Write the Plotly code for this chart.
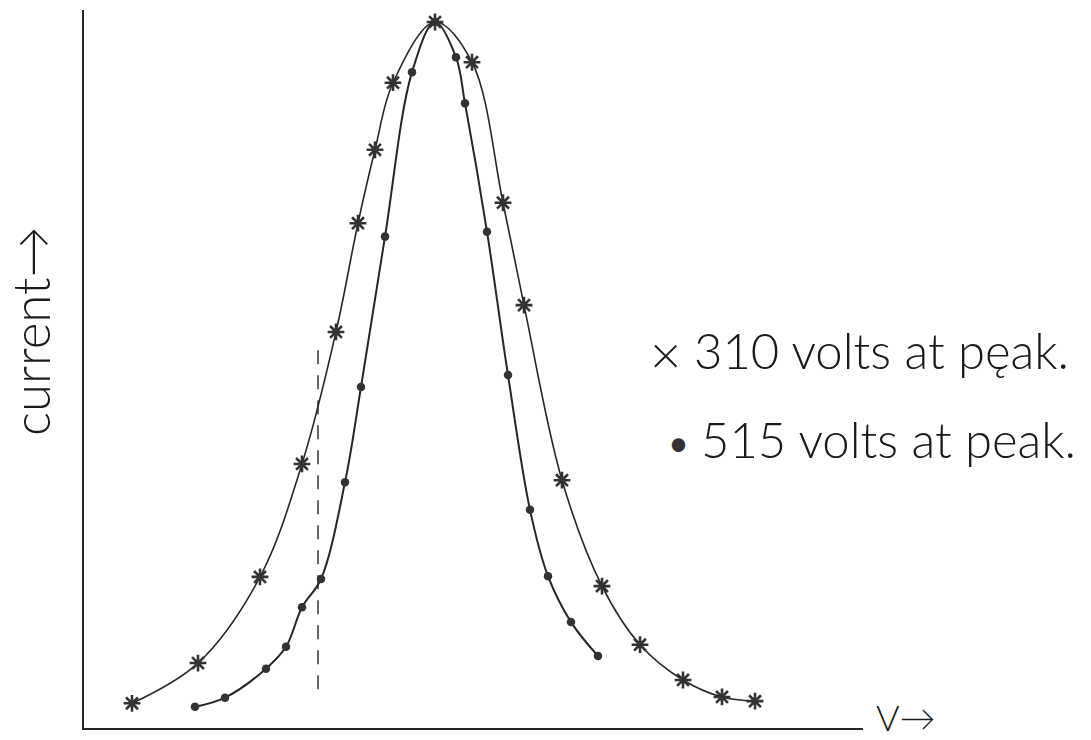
import plotly.graph_objects as go

# Data (arbitrary units: V along x, current along y, peak = 100)
v_310 = [4.8, 11.4, 17.6, 21.8, 25.2, 27.4, 29.1, 30.9, 35.1, 38.8, 41.9, 44.0, 47.8, 51.8, 55.6, 59.9, 63.8, 67.1]
i_310 = [3.5, 9.2, 21.4, 37.4, 56.1, 71.5, 81.9, 91.4, 100.0, 94.3, 74.4, 59.9, 35.1, 20.1, 11.8, 6.8, 4.4, 3.8]

v_515 = [11.1, 14.1, 18.2, 20.2, 21.8, 23.7, 26.1, 27.7, 30.1, 32.8, 35.1, 37.2, 38.1, 40.3, 42.4, 44.6, 46.4, 48.7, 51.4]
i_515 = [3.0, 4.3, 8.4, 11.5, 17.1, 21.1, 34.8, 48.3, 69.6, 92.9, 100.0, 95.0, 88.5, 70.3, 50.0, 30.9, 21.5, 15.0, 10.2]

dash_v = [23.4, 23.4]
dash_i = [53.5, 4.3]

legend_labels = ["310 volts at pęak.", "515 volts at peak."]
x_label = "V→"
y_label = "current→"

ink = "#262626"
FONT = "Lato"

fig = go.Figure()

fig.add_trace(go.Scatter(x=dash_v, y=dash_i, mode="lines",
                         line=dict(color=ink, width=1.4, dash="14px,11px"),
                         hoverinfo="skip"))

fig.add_trace(go.Scatter(x=v_310, y=i_310, mode="lines",
                         line=dict(color=ink, width=1.6, shape="spline", smoothing=1.0)))
fig.add_trace(go.Scatter(x=v_515, y=i_515, mode="lines",
                         line=dict(color=ink, width=2.0, shape="spline", smoothing=1.0)))

fig.add_trace(go.Scatter(x=v_515, y=i_515, mode="markers",
                         marker=dict(symbol="circle", size=8.5, color="#333333")))
fig.add_trace(go.Scatter(x=v_310, y=i_310, mode="markers",
                         marker=dict(symbol="asterisk-open", size=14, color="#333333",
                                     line=dict(color="#333333", width=2.6))))

L, R, T, B = 84, 228, 10, 12
W, H = 1091, 740
pw, ph = W - L - R, H - T - B


def px(x):
    return (x - L) / pw


def py(y):
    return (H - B - y) / ph


ann_font = dict(family=FONT, size=49, color="#1a1a1a", weight=300)
annotations = [
    dict(text="×", x=px(665), y=py(353), xref="paper", yref="paper",
         xanchor="center", yanchor="middle", showarrow=False,
         font=dict(family=FONT, size=54, color="#1a1a1a", weight=300)),
    dict(text=legend_labels[0], x=px(692), y=py(350), xref="paper", yref="paper",
         xanchor="left", yanchor="middle", showarrow=False, font=ann_font),
    dict(text="•", x=px(678), y=py(442), xref="paper", yref="paper",
         xanchor="center", yanchor="middle", showarrow=False,
         font=dict(family=FONT, size=36, color="#333333")),
    dict(text=legend_labels[1], x=px(699), y=py(439), xref="paper", yref="paper",
         xanchor="left", yanchor="middle", showarrow=False, font=ann_font),
    dict(text=x_label, x=px(874), y=py(741), xref="paper", yref="paper",
         xanchor="left", yanchor="bottom", showarrow=False,
         font=dict(family=FONT, size=36, color="#1a1a1a", weight=300)),
    dict(text=y_label, x=px(30), y=py(332), xref="paper", yref="paper",
         xanchor="center", yanchor="middle", showarrow=False, textangle=-90,
         font=dict(family=FONT, size=51, color="#1a1a1a", weight=300)),
]

fig.update_layout(
    width=W, height=H,
    margin=dict(l=L, r=R, t=T, b=B, autoexpand=False),
    paper_bgcolor="white", plot_bgcolor="white",
    showlegend=False,
    annotations=annotations,
    xaxis=dict(range=[0, pw / 10], showgrid=False, zeroline=False, showticklabels=False,
               ticks="", showline=True, linecolor=ink, linewidth=2),
    yaxis=dict(range=[0, ph / 7.06], showgrid=False, zeroline=False, showticklabels=False,
               ticks="", showline=True, linecolor=ink, linewidth=1.6),
)

fig.write_html("out.html", config={"displayModeBar": False})
